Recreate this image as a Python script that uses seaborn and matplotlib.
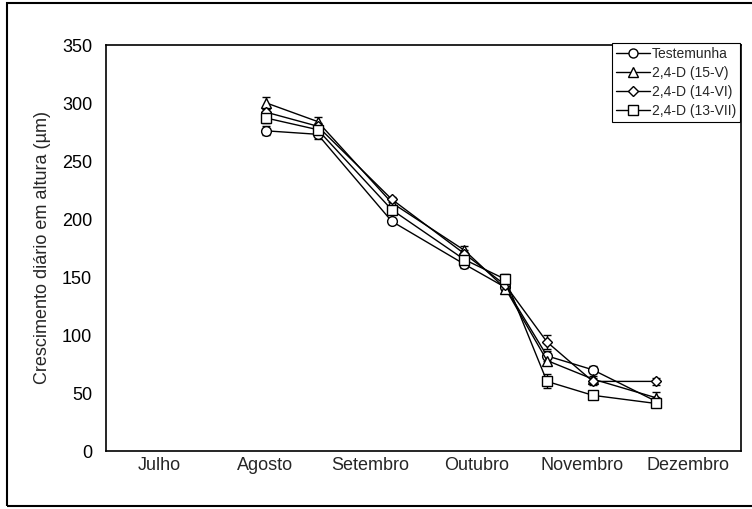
import numpy as np
import pandas as pd
import matplotlib
matplotlib.use("Agg")
import matplotlib.pyplot as plt
import seaborn as sns
from matplotlib.patches import Rectangle
from matplotlib.lines import Line2D

# ---------------- data ----------------
months = ["Julho", "Agosto", "Setembro", "Outubro", "Novembro", "Dezembro"]
month_numbers = [7, 8, 9, 10, 11, 12]
dates = ["2000-08-17", "2000-09-01", "2000-09-22", "2000-10-13",
         "2000-10-25", "2000-11-06", "2000-11-19", "2000-12-07"]

series_names = ["Testemunha", "2,4-D (15-V)", "2,4-D (14-VI)", "2,4-D (13-VII)"]
testemunha = [276, 273, 198, 161, 141, 82, 70, 43]
d15v = [300, 284, 214, 173, 140, 78, 62, 46]
d14vi = [292, 280, 217, 170, 143, 94, 60, 60]
d13vii = [287, 277, 208, 165, 148, 60, 48, 41]

err_testemunha = [4, 4, 2, 3, 2, 4, 3, 2]
err_d15v = [5, 4, 2, 4, 3, 4, 3, 5]
err_d14vi = [3, 3, 2, 3, 3, 6, 3, 3]
err_d13vii = [4, 4, 3, 3, 5, 6, 2, 2]

# ---------------- helpers ----------------
def month_position(date_str):
    d = pd.Timestamp(date_str)
    idx = month_numbers.index(d.month)
    return (idx - 0.5) + (d.day - 1) / d.days_in_month

xpos = [month_position(d) for d in dates]

values = [testemunha, d15v, d14vi, d13vii]
errors = [err_testemunha, err_d15v, err_d14vi, err_d13vii]
rows = []
for name, vals, errs in zip(series_names, values, errors):
    for x, v, e in zip(xpos, vals, errs):
        rows.append({"x": x, "y": v, "err": e, "Tratamento": name})
df = pd.DataFrame(rows)

# ---------------- plot ----------------
sns.set_theme(style="white")
plt.rcParams["font.family"] = ["Liberation Sans", "DejaVu Sans"]

fig = plt.figure(figsize=(7.52, 5.09), dpi=100)
ax = fig.add_axes([106 / 752, 1 - 451 / 509, (741 - 106) / 752, (451 - 45) / 509])

marker_map = {"Testemunha": "o", "2,4-D (15-V)": "^",
              "2,4-D (14-VI)": "D", "2,4-D (13-VII)": "s"}

for name in series_names:
    sub = df[df["Tratamento"] == name]
    ax.errorbar(sub["x"], sub["y"], yerr=sub["err"], fmt="none",
                ecolor="black", elinewidth=1.0, capsize=3, capthick=1.0, zorder=2)

sns.lineplot(data=df, x="x", y="y", hue="Tratamento", style="Tratamento",
             palette=["black"] * 4, dashes=False, markers=marker_map,
             estimator=None, sort=False, ax=ax, legend=False,
             linewidth=1.0, markersize=7, markerfacecolor="white",
             markeredgecolor="black", markeredgewidth=1.0, zorder=3)
for line in ax.lines:
    if line.get_marker() == "D":
        line.set_markersize(5.5)

ax.set_xlim(-0.5, 5.5)
ax.set_ylim(0, 350)
ax.set_yticks(np.arange(0, 351, 50))
ax.set_xticks(np.arange(-0.5, 5.6, 1.0))
ax.set_xticklabels([])
ax.set_xticks(np.arange(0, 6), minor=True)
ax.set_xticklabels(months, minor=True)
ax.tick_params(axis="x", which="minor", length=0, labelsize=13, pad=4)
ax.tick_params(axis="x", which="major", direction="in", length=4, width=0.8,
               colors="black", top=False)
ax.tick_params(axis="y", which="major", direction="in", length=5, width=0.8,
               labelsize=13, pad=10, colors="black", right=False)
ax.set_xlabel("")
ax.set_ylabel("Crescimento diário em altura (µm)", fontsize=13, labelpad=8)

for s in ax.spines.values():
    s.set_visible(True)
    s.set_color("black")
    s.set_linewidth(1.2)

handles = [Line2D([0], [0], color="black", lw=1.0, marker=marker_map[n],
                  markersize=(5 if marker_map[n] == "D" else 6.5),
                  markerfacecolor="white", markeredgecolor="black",
                  markeredgewidth=1.0, label=n) for n in series_names]
leg = ax.legend(handles=handles, loc="upper right",
                bbox_to_anchor=(740 / 752, 1 - 43 / 509),
                bbox_transform=fig.transFigure, fontsize=10, frameon=True,
                fancybox=False, edgecolor="black", framealpha=1,
                borderpad=0.3, labelspacing=0.35, handlelength=2.4,
                handletextpad=0.15, borderaxespad=0)
leg.get_frame().set_linewidth(0.8)

# figure border (as in reference)
fig.patches.append(Rectangle((7 / 752, 3 / 509), 760 / 752, 503 / 509,
                             transform=fig.transFigure, fill=False,
                             edgecolor="black", linewidth=1.5))

fig.savefig("out.png", dpi=100)
